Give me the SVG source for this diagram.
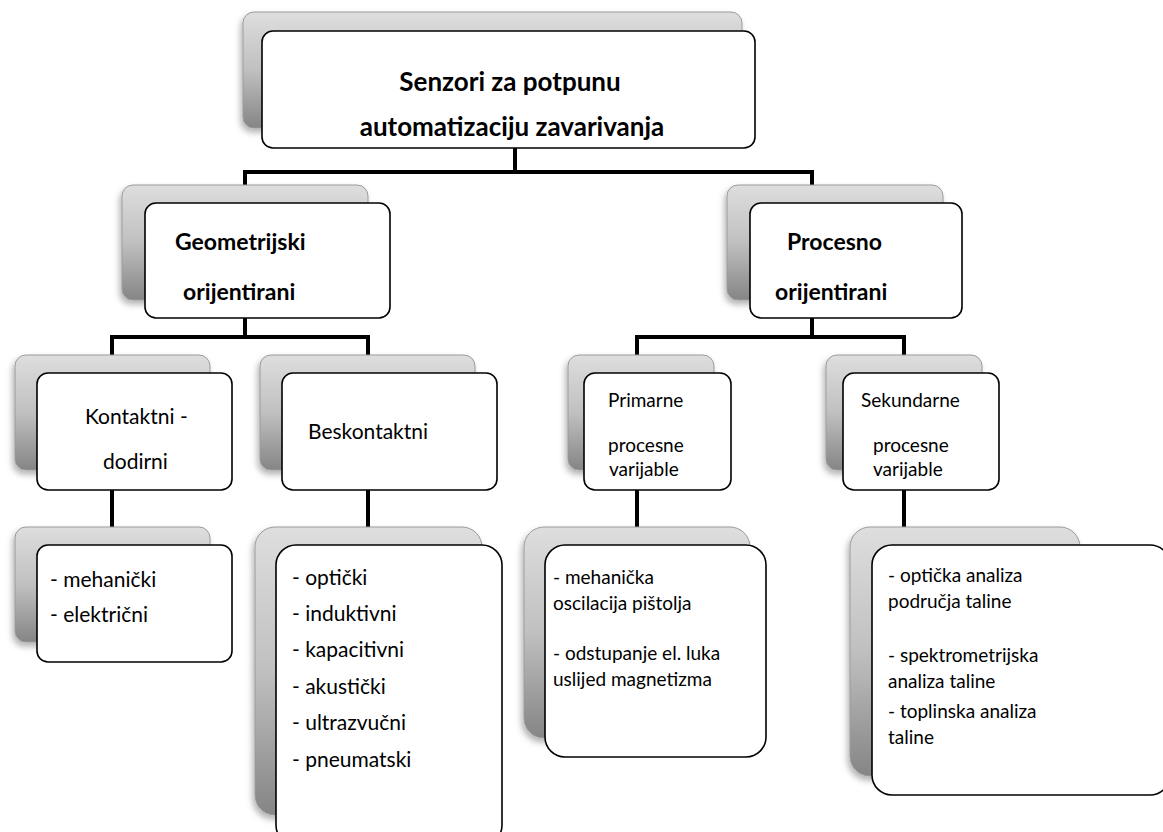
<svg xmlns="http://www.w3.org/2000/svg" width="1163" height="832" viewBox="0 0 1163 832">
<style>
.sh{fill:url(#g);stroke:#9a9a9a;stroke-width:1;filter:url(#ds)}
.bx{fill:#fff;stroke:#000;stroke-width:1.6}
.t{font-family:Lato,"Liberation Sans",sans-serif;font-size:19px;fill:#000}
.tl{font-family:Lato,"Liberation Sans",sans-serif;font-size:21px;fill:#000}
.b{font-family:Lato,"Liberation Sans",sans-serif;font-weight:bold;font-size:23px;fill:#000}
.tt{font-family:Lato,"Liberation Sans",sans-serif;font-weight:bold;font-size:26px;fill:#000}
.c{fill:none;stroke:#000;stroke-width:4}
</style>
<defs>
<linearGradient id="g" x1="0" y1="0" x2="0" y2="1">
<stop offset="0" stop-color="#dedede"/>
<stop offset="0.5" stop-color="#c0c0c0"/>
<stop offset="1" stop-color="#858585"/>
</linearGradient>
<filter id="ds" x="-10%" y="-10%" width="120%" height="130%">
<feDropShadow dx="-2" dy="4" stdDeviation="3" flood-color="#000" flood-opacity="0.3"/>
</filter>
</defs>
<rect width="1163" height="832" fill="#fff"/>
<g id="connectors">
<path class="c" d="M515 148V172M245 190V172H812V190"/>
<path class="c" d="M245 318V337M112 357V337H368V357"/>
<path class="c" d="M812 318V337M637 357V337H904V357"/>
<path class="c" d="M112 490V529M368 490V529M637 490V529M904 490V529"/>
</g>
<g id="n-root">
<rect class="sh" x="243" y="12" width="499" height="116" rx="11"/>
<rect class="bx" x="262" y="31" width="493" height="117" rx="11"/>
<text class="tt" x="510" y="91" text-anchor="middle">Senzori za potpunu</text>
<text class="tt" x="512" y="136" text-anchor="middle">automatizaciju zavarivanja</text>
</g>
<g id="n-geo">
<rect class="sh" x="122" y="185" width="246" height="115" rx="11"/>
<rect class="bx" x="145" y="203" width="245" height="115" rx="11"/>
<text class="b" x="175" y="250">Geometrijski</text>
<text class="b" x="183" y="300">orijentirani</text>
</g>
<g id="n-proc">
<rect class="sh" x="727" y="185" width="216" height="115" rx="11"/>
<rect class="bx" x="750" y="203" width="212" height="115" rx="11"/>
<text class="b" x="787" y="250">Procesno</text>
<text class="b" x="775" y="300">orijentirani</text>
</g>
<g id="n-kontakt">
<rect class="sh" x="15" y="355" width="195" height="115" rx="11"/>
<rect class="bx" x="37" y="373" width="195" height="117" rx="11"/>
<text class="tl" x="85" y="424">Kontaktni -</text>
<text class="tl" x="103" y="469">dodirni</text>
</g>
<g id="n-beskontakt">
<rect class="sh" x="260" y="355" width="215" height="115" rx="11"/>
<rect class="bx" x="282" y="373" width="215" height="117" rx="11"/>
<text class="tl" x="308" y="439">Beskontaktni</text>
</g>
<g id="n-prim">
<rect class="sh" x="568" y="355" width="146" height="115" rx="11"/>
<rect class="bx" x="584" y="373" width="147" height="117" rx="11"/>
<text class="t" x="608" y="407">Primarne</text>
<text class="t" x="608" y="452">procesne</text>
<text class="t" x="609" y="476">varijable</text>
</g>
<g id="n-sek">
<rect class="sh" x="826" y="355" width="156" height="115" rx="11"/>
<rect class="bx" x="843" y="373" width="156" height="117" rx="11"/>
<text class="t" x="861" y="407">Sekundarne</text>
<text class="t" x="873" y="452">procesne</text>
<text class="t" x="873" y="476">varijable</text>
</g>
<g id="n-meh">
<rect class="sh" x="15" y="527" width="195" height="115" rx="11"/>
<rect class="bx" x="37" y="545" width="195" height="117" rx="11"/>
<text class="tl" x="50" y="587">- mehanički</text>
<text class="tl" x="50" y="622">- električni</text>
</g>
<g id="n-opt">
<rect class="sh" x="255" y="527" width="227" height="288" rx="20"/>
<rect class="bx" x="276" y="545" width="226" height="300" rx="20"/>
<text class="tl" x="292" y="585">- optički</text>
<text class="tl" x="292" y="621">- induktivni</text>
<text class="tl" x="292" y="657">- kapacitivni</text>
<text class="tl" x="292" y="694">- akustički</text>
<text class="tl" x="292" y="730">- ultrazvučni</text>
<text class="tl" x="292" y="767">- pneumatski</text>
</g>
<g id="n-osc">
<rect class="sh" x="524" y="527" width="226" height="211" rx="20"/>
<rect class="bx" x="545" y="545" width="221" height="212" rx="20"/>
<text class="t" x="553" y="584">- mehanička</text>
<text class="t" x="553" y="610">oscilacija pištolja</text>
<text class="t" x="553" y="660">- odstupanje el. luka</text>
<text class="t" x="553" y="686">uslijed magnetizma</text>
</g>
<g id="n-anal">
<rect class="sh" x="850" y="527" width="230" height="249" rx="20"/>
<rect class="bx" x="872" y="545" width="298" height="250" rx="20"/>
<text class="t" x="888" y="582">- optička analiza</text>
<text class="t" x="888" y="608">područja taline</text>
<text class="t" x="888" y="662">- spektrometrijska</text>
<text class="t" x="888" y="688">analiza taline</text>
<text class="t" x="888" y="718">- toplinska analiza</text>
<text class="t" x="888" y="744">taline</text>
</g>
</svg>
